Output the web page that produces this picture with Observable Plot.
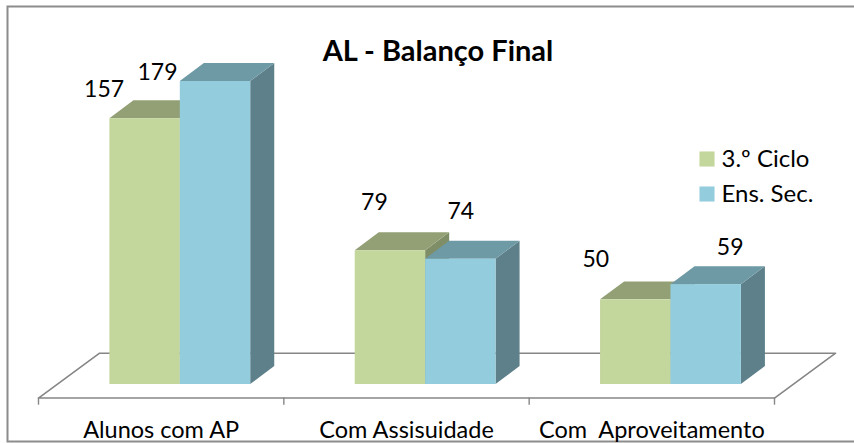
<!DOCTYPE html>
<html><head><meta charset="utf-8">
<script src="https://cdn.jsdelivr.net/npm/d3@7"></script>
<script src="https://cdn.jsdelivr.net/npm/@observablehq/plot@0.6"></script>
<style>html,body{margin:0;padding:0;background:#fff}svg{display:block}</style>
</head><body><div id="chart"></div>
<script>
const categories = ["Alunos com AP", "Com Assisuidade", "Com  Aproveitamento"];
const seriesNames = ["3.º Ciclo", "Ens. Sec."];
const ciclo = [157, 79, 50];
const secundario = [179, 74, 59];
const fronts = ["#C3D69B", "#93CDDD"];
const tops = ["#93A075", "#6E9AA6"];
const sides = ["#7F8E66", "#5E808B"];
const labelOffsets = [[[-41,-29],[-58,-9]],[[-16,-48],[0,-48]],[[-40,-40],[24,-37]]];

const start = 0.291, bw = 0.287, ddx = 0.098, ddy = 10.6;
const marks = [];
const fy0 = -8, fy1 = 18.5, fdx = 0.249;
marks.push(Plot.frame({stroke:"#8C8C8C", strokeWidth:2, insetTop:6, insetLeft:7, insetBottom:2, insetRight:-6}));
marks.push(Plot.line([[0,fy0],[fdx,fy1],[3+fdx,fy1],[3,fy0],[0,fy0]], {stroke:"#868686", strokeWidth:1.6}));
marks.push(Plot.ruleX([0,1,2,3], {y1:fy0, y2:-12.2, stroke:"#868686", strokeWidth:1.4}));

[ciclo, secundario].forEach((vals, s) => {
  vals.forEach((v, g) => {
    const x0 = g + start + s*bw, x1 = x0 + bw;
    marks.push(Plot.areaY([{x:x1,a:0,b:v},{x:x1+ddx,a:ddy,b:v+ddy}], {x:"x",y1:"a",y2:"b",fill:sides[s]}));
    marks.push(Plot.areaX([{y:v,a:x0,b:x1},{y:v+ddy,a:x0+ddx,b:x1+ddx}], {y:"y",x1:"a",x2:"b",fill:tops[s]}));
    marks.push(Plot.rect([{x1:x0,x2:x1,y1:0,y2:v}], {x1:"x1",x2:"x2",y1:"y1",y2:"y2",fill:fronts[s]}));
  });
});
[ciclo, secundario].forEach((vals, s) => {
  vals.forEach((v, g) => {
    const [dx, dy] = labelOffsets[g][s];
    marks.push(Plot.text([{x:g+start+s*bw+bw/2,y:v,t:String(v)}], {x:"x",y:"y",text:"t",dx,dy,fontSize:23,fill:"#000",lineAnchor:"middle",textAnchor:"middle"}));
  });
});
categories.forEach((c, g) => {
  marks.push(Plot.text([{x:g+0.5,t:c}], {x:"x",y:()=>-12.2,text:"t",dy:25,fontSize:23.5,fill:"#000",lineAnchor:"middle"}));
});
marks.push(Plot.text(["AL - Balanço Final"], {frameAnchor:"top-left",dx:437.5,dy:51,fontSize:29,fontWeight:"bold",fill:"#000",textAnchor:"middle",lineAnchor:"middle"}));
seriesNames.forEach((n, s) => {
  const dy = 158.5 + s*35;
  marks.push(Plot.dot([n], {frameAnchor:"top-left",dx:706.5,dy,symbol:"square",r:8.5,fill:fronts[s],stroke:null}));
  marks.push(Plot.text([n], {frameAnchor:"top-left",dx:721,dy,fontSize:24,fill:"#000",textAnchor:"start",lineAnchor:"middle"}));
});
const chart = Plot.plot({
  width:854, height:443, margin:0,
  style:{background:"#fff", fontFamily:"Lato, sans-serif", overflow:"hidden"},
  x:{domain:[0,3], range:[38,774], axis:null},
  y:{domain:[0,179], range:[384,81], axis:null},
  marks
});
document.getElementById("chart").append(chart);
</script></body></html>
